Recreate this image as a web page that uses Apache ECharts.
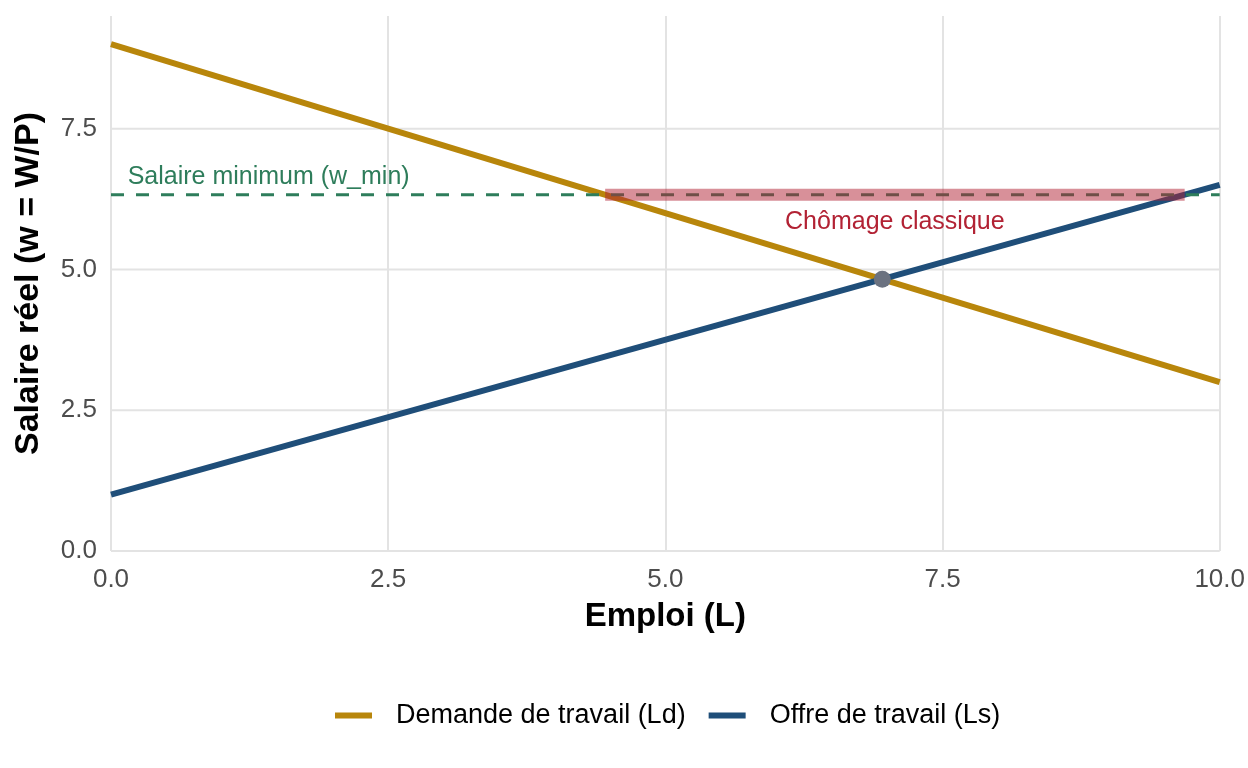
<!DOCTYPE html>
<html>
<head>
<meta charset="utf-8">
<script src="https://cdn.jsdelivr.net/npm/echarts@6/dist/echarts.min.js"></script>
<style>
html,body{margin:0;padding:0;background:#fff;}
#c{width:1248px;height:768px;}
</style>
</head>
<body>
<div id="c"></div>
<script>
// ---- data ----
const xTicks = [0, 2.5, 5, 7.5, 10];
const yTicks = [0, 2.5, 5, 7.5];
const demandL = [0, 10];
const demandW = [9.0, 3.0];
const supplyL = [0, 10];
const supplyW = [1.0, 6.5];
const wMinL = [0, 10];
const wMinW = [6.326, 6.326];
const gapL = [4.457, 9.684];
const gapW = [6.326, 6.326];
const equilibrium = [6.957, 4.826];
const labelMin = {text: 'Salaire minimum (w_min)', x: 0.15, y: 6.64};
const labelGap = {text: 'Chômage classique', x: 7.07, y: 5.84};
const seriesNames = ['Demande de travail (Ld)', 'Offre de travail (Ls)'];

const FONT = '"Liberation Sans", Arial, Helvetica, sans-serif';
const zip = (a, b) => a.map((v, i) => [v, b[i]]);

const gridSeries = yTicks.map(v => ({
  type: 'line', name: '_g' + v, data: [[xTicks[0], v], [xTicks[xTicks.length - 1], v]],
  showSymbol: false, symbol: 'none', silent: true, z: 1,
  lineStyle: {color: '#E3E3E3', width: 2}
}));

const chart = echarts.init(document.getElementById('c'), null, {renderer: 'canvas'});
chart.setOption({
  backgroundColor: '#ffffff',
  animation: false,
  textStyle: {fontFamily: FONT},
  grid: {left: 111, right: 27.5, top: 16, bottom: 217, containLabel: false},
  xAxis: {
    type: 'value', min: 0, max: 10, interval: 2.5,
    name: 'Emploi (L)', nameLocation: 'middle', nameGap: 49,
    nameTextStyle: {fontFamily: FONT, fontSize: 33, fontWeight: 'bold', color: '#000'},
    axisLine: {show: false}, axisTick: {show: false},
    axisLabel: {fontFamily: FONT, fontSize: 26, color: '#4D4D4D', margin: 16,
      formatter: v => v.toFixed(1)},
    splitLine: {show: true, lineStyle: {color: '#E3E3E3', width: 2}}
  },
  yAxis: {
    type: 'value', min: 0, max: 9.5, interval: 2.5,
    name: 'Salaire réel (w = W/P)', nameLocation: 'middle', nameGap: 65,
    nameTextStyle: {fontFamily: FONT, fontSize: 34, fontWeight: 'bold', color: '#000'},
    axisLine: {show: false}, axisTick: {show: false},
    axisLabel: {fontFamily: FONT, fontSize: 26, color: '#4D4D4D', margin: 14,
      showMaxLabel: false,
      formatter: v => (yTicks.indexOf(v) >= 0 ? v.toFixed(1) : '')},
    splitLine: {show: false}
  },
  legend: {
    data: seriesNames,
    left: 330, top: 697,
    icon: 'rect', itemWidth: 37, itemHeight: 6, itemGap: 23,
    textStyle: {fontFamily: FONT, fontSize: 27, color: '#000', padding: [0, 0, 0, 19]}
  },
  series: gridSeries.concat([
    {
      type: 'line', name: seriesNames[0], data: zip(demandL, demandW),
      showSymbol: false, symbol: 'none', z: 3,
      itemStyle: {color: '#B8860B'},
      lineStyle: {color: '#B8860B', width: 6}
    },
    {
      type: 'line', name: seriesNames[1], data: zip(supplyL, supplyW),
      showSymbol: false, symbol: 'none', z: 3,
      itemStyle: {color: '#1F4E79'},
      lineStyle: {color: '#1F4E79', width: 6}
    },
    {
      type: 'line', name: '_wmin', data: zip(wMinL, wMinW),
      showSymbol: false, symbol: 'none', z: 4,
      lineStyle: {color: '#2E7D5B', width: 3.2, type: [13, 12]}
    },
    {
      type: 'line', name: '_gap', data: zip(gapL, gapW),
      showSymbol: false, symbol: 'none', z: 5,
      lineStyle: {color: 'rgba(178,34,52,0.5)', width: 12, cap: 'butt'}
    },
    {
      type: 'scatter', name: '_eq', data: [equilibrium], z: 6,
      symbol: 'circle', symbolSize: 17,
      itemStyle: {color: '#6B7280', opacity: 1}
    },
    {
      type: 'scatter', name: '_labels', z: 7, symbolSize: 1, silent: true,
      itemStyle: {color: 'rgba(0,0,0,0)', opacity: 1},
      data: [
        {value: [labelMin.x, labelMin.y], label: {show: true, formatter: labelMin.text,
          position: 'inside', align: 'left', verticalAlign: 'middle', opacity: 1,
          fontFamily: FONT, fontSize: 25, color: '#2E7D5B'}},
        {value: [labelGap.x, labelGap.y], label: {show: true, formatter: labelGap.text,
          position: 'inside', align: 'center', verticalAlign: 'middle', opacity: 1,
          fontFamily: FONT, fontSize: 25, color: '#B22234'}}
      ]
    }
  ])
});
</script>
</body>
</html>
